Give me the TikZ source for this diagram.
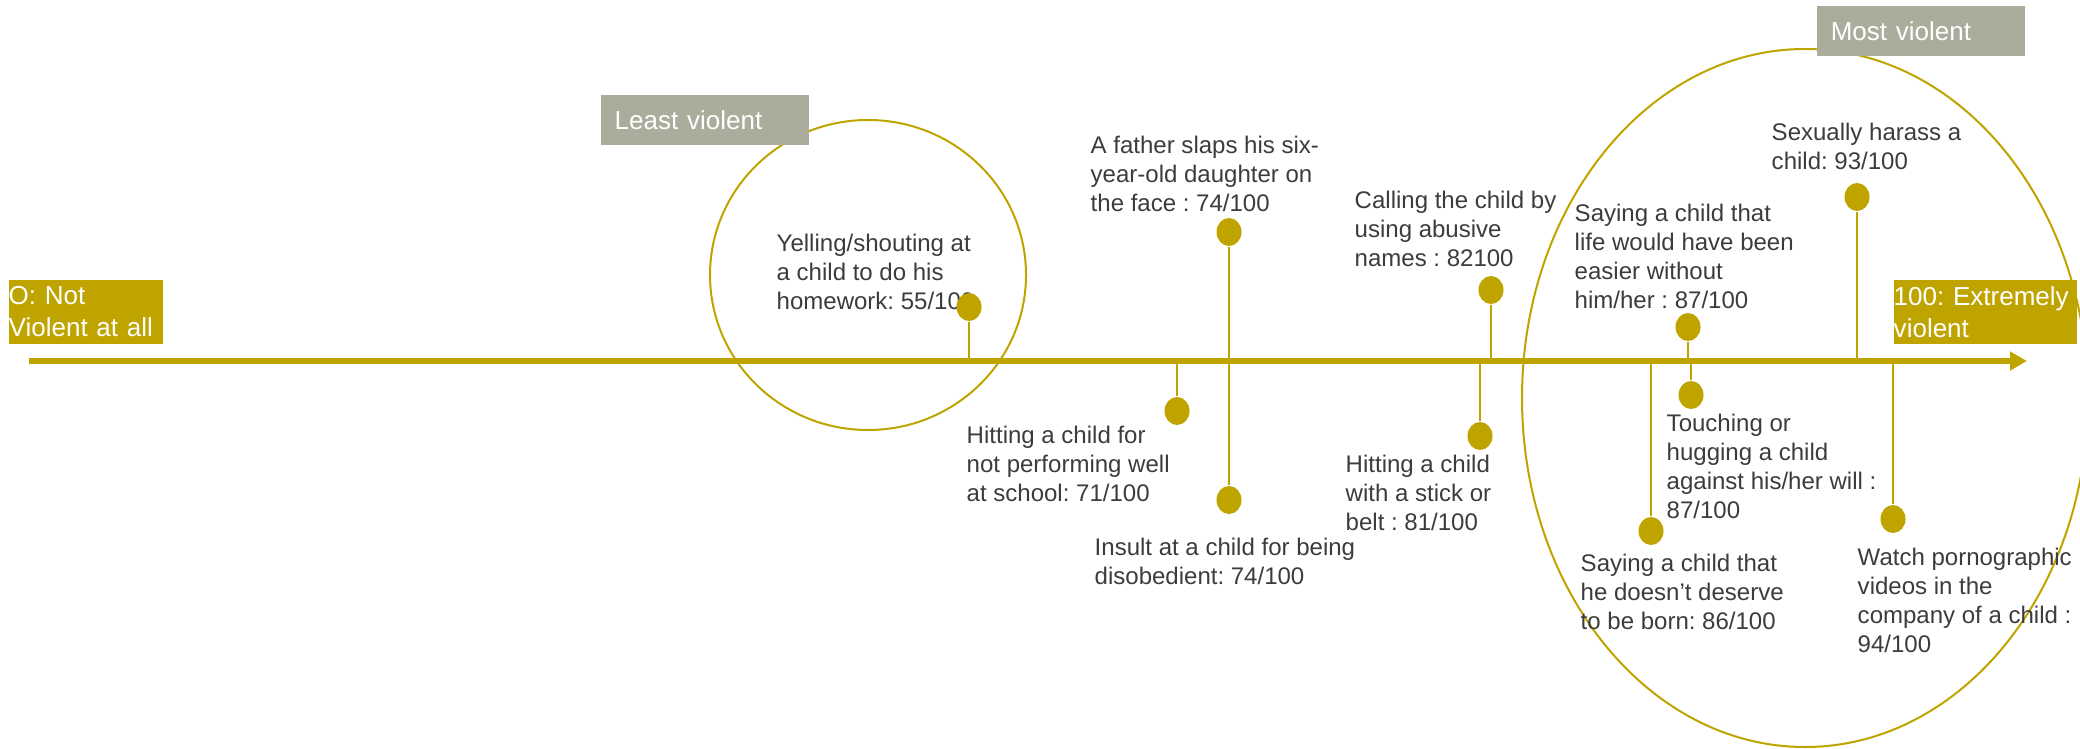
\documentclass[tikz,border=0pt]{standalone}
\usepackage{fontspec}
\setmainfont{Liberation Sans}
\usepackage{tikz}
\usetikzlibrary{shapes.geometric,arrows.meta}
\definecolor{gold}{RGB}{191,164,0}
\definecolor{taupe}{RGB}{172,172,157}
\definecolor{ink}{RGB}{60,60,60}
\frenchspacing

\begin{document}
\begin{tikzpicture}[x=0.01cm, y=-0.01cm,
    lbl/.style={anchor=north west, inner sep=0, align=left, text=ink, font=\fontsize{6.83pt}{8.25pt}\selectfont},
    dot/.style={ellipse, fill=gold, inner sep=0, minimum width=0.25cm, minimum height=0.28cm},
    stem/.style={gold, line width=0.02cm},
    tag/.style={anchor=north west, inner sep=0, align=left, fill=gold, text=white, minimum height=0.64cm, font=\fontsize{7.4pt}{9.1pt}\selectfont},
    band/.style={anchor=north west, inner ysep=0, inner xsep=0.14cm, text width=1.8cm, minimum height=0.5cm, fill=taupe, text=white, font=\fontsize{7.4pt}{9.1pt}\selectfont}]
      \useasboundingbox (0,0) rectangle (2080,749);
      \clip (0,0) rectangle (2080,749);
      % rings round both ends
      \draw[gold, line width=0.02cm] (868,275) ellipse [x radius=158, y radius=155];
      \draw[gold, line width=0.02cm] (1805,398) ellipse [x radius=283, y radius=349];
      % labels above the axis
      \node[lbl] (tyell) at (776,233) {Yelling/shouting at\\a child to do his\\homework: 55/100};
      \node[lbl] (tslap) at (1090,135) {A father slaps his six-\\year-old daughter on\\the face : 74/100};
      \node[lbl] (tname) at (1354,190) {Calling the child by\\using abusive\\names : 82100};
      \node[lbl] (tlife) at (1574,203) {Saying a child that\\life would have been\\easier without\\him/her : 87/100};
      \node[lbl] (tharass) at (1771,122) {Sexually harass a\\child: 93/100};
      % labels below the axis
      \node[lbl] (tschool) at (966,425) {Hitting a child for\\not performing well\\at school: 71/100};
      \node[lbl] (tinsult) at (1094,537) {Insult at a child for being\\disobedient: 74/100};
      \node[lbl] (tstick) at (1345,454) {Hitting a child\\with a stick or\\belt : 81/100};
      \node[lbl] (ttouch) at (1666,413) {Touching or\\hugging a child\\against his/her will :\\87/100};
      \node[lbl] (tborn) at (1580,553) {Saying a child that\\he doesn’t deserve\\to be born: 86/100};
      \node[lbl] (tporn) at (1857,547) {Watch pornographic\\videos in the\\company of a child :\\94/100};
      % axis
      \coordinate (ax0) at (29,361);
      \coordinate (ax1) at (2027,361);
      \draw[gold, line width=0.06cm, -{Triangle[length=0.17cm,width=0.18cm]}] (ax0) -- (ax1);
      % dots
      \node[dot] (d55) at (969,307) {};
      \node[dot] (d74a) at (1229,232) {};
      \node[dot] (d74b) at (1229,500) {};
      \node[dot] (d71) at (1177,411) {};
      \node[dot] (d82) at (1491,290) {};
      \node[dot] (d81) at (1480,436) {};
      \node[dot] (d87a) at (1688,327) {};
      \node[dot] (d87b) at (1691,395) {};
      \node[dot] (d86) at (1651,531) {};
      \node[dot] (d93) at (1857,197) {};
      \node[dot] (d94) at (1893,519) {};
      % stems
      \draw[stem] (d55) -- (d55 |- ax0);
      \draw[stem] (d74a) -- (d74b);
      \draw[stem] (d71) -- (d71 |- ax0);
      \draw[stem] (d82) -- (d82 |- ax0);
      \draw[stem] (d81) -- (d81 |- ax0);
      \draw[stem] (d87a) -- (d87a |- ax0);
      \draw[stem] (d87b) -- (d87b |- ax0);
      \draw[stem] (d86) -- (d86 |- ax0);
      \draw[stem] (d93) -- (d93 |- ax0);
      \draw[stem] (d94) -- (d94 |- ax0);
      % end tags
      \node[tag, text width=1.54cm] (lo) at (8,279) {O: Not\\Violent at all};
      \node[tag, text width=1.83cm] (hi) at (1893,279) {100: Extremely\\violent};
      \node[band] (least) at (600,94) {Least violent};
      \node[band] (most) at (1816,5) {Most violent};
    \end{tikzpicture}
\end{document}
